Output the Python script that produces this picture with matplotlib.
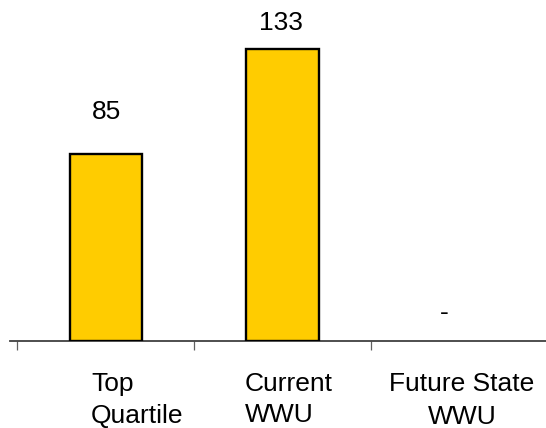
import matplotlib
matplotlib.use("Agg")
import matplotlib.pyplot as plt

# Data
categories = ["Top\nQuartile", "Current\nWWU", "Future State\nWWU"]
values = [85, 133, 0]
value_labels = ["85", "133", "-"]

plt.rcParams["font.family"] = ["Liberation Sans", "DejaVu Sans"]

fig = plt.figure(figsize=(5.46, 4.28), dpi=100)
ax = fig.add_axes([9.7 / 546, 87 / 428, 536.3 / 546, 341 / 428])

x = list(range(len(categories)))
ax.bar(x[:2], values[:2], width=0.41, color="#FFCC00",
       edgecolor="black", linewidth=1.7, zorder=3)

ax.set_xlim(-0.544, 2.491)
ax.set_ylim(0, 155.2)

for s in ["top", "right", "left"]:
    ax.spines[s].set_visible(False)
ax.spines["bottom"].set_color("#404040")
ax.spines["bottom"].set_linewidth(1.3)
ax.set_yticks([])
ax.set_xticks([-0.5, 0.5, 1.5])
ax.set_xticklabels([])
ax.tick_params(axis="x", direction="out", length=6.5, width=0.9, color="#606060")

# value labels above bars
label_pos = [(0.005, 101.0), (0.99, 141.6), (1.914, 9.6)]
for (lx, ly), txt in zip(label_pos, value_labels):
    ax.text(lx, ly, txt, ha="center", va="baseline", fontsize=19,
            color="black", clip_on=False)

# category labels below the axis
cat_layout = [(-0.084, "left", -37.3), (0.788, "left", -36.9), (2.015, "center", -37.9)]
for (cx, ha, y2), name in zip(cat_layout, categories):
    first, second = name.split("\n")
    ax.text(cx, -22.8, first, ha=ha, va="baseline", fontsize=19, clip_on=False)
    ax.text(cx, y2, second, ha=ha, va="baseline", fontsize=19, clip_on=False)

fig.savefig("out.png", dpi=100)
